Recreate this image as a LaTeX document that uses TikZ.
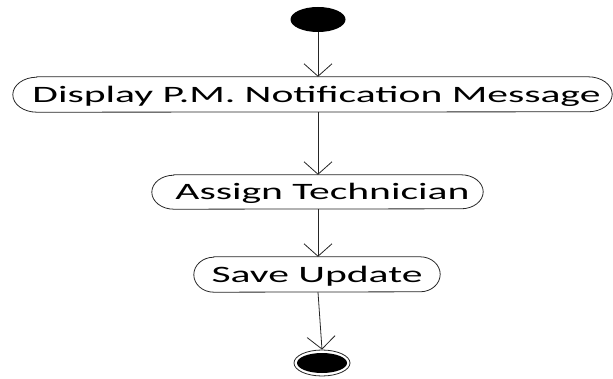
\documentclass[tikz,border=0pt]{standalone}
\usepackage{fontspec}
\setmainfont{Carlito}
\newfontfamily\actfont[FakeStretch=1.77]{Carlito}
\usetikzlibrary{arrows.meta,calc,shapes.geometric}

% Outline of an activity: straight top and bottom with elliptic end caps
% #1 node name, #2 cap width, #3 half height
\newcommand{\capsule}[3]{%
  \draw[flow] ($(#1.north west)+(#2,0)$) -- ($(#1.north east)+(-#2,0)$)
    arc[start angle=90,end angle=-90,x radius=#2pt,y radius=#3pt]
    -- ($(#1.south west)+(#2,0)$)
    arc[start angle=270,end angle=90,x radius=#2pt,y radius=#3pt]
    -- cycle;}

\begin{document}
\begin{tikzpicture}[x=1pt,y=-1pt,
    flow/.style={draw=black!85,line width=0.8pt},
    activity/.style={rectangle,inner sep=0pt,text height=16pt,text depth=0pt,
      font=\actfont\fontsize{23.5}{28}\selectfont},
    arrow/.style={flow,-{Straight Barb[length=12.5pt,width=28pt]}},
    initial/.style={ellipse,fill=black,inner sep=0pt,
      minimum width=55pt,minimum height=25pt},
    finalring/.style={ellipse,draw=black!85,line width=0.8pt,fill=white,
      inner sep=0pt,minimum width=56pt,minimum height=26pt},
    finaldot/.style={ellipse,fill=black,inner sep=0pt,
      minimum width=50pt,minimum height=20pt}]
  \useasboundingbox (0,0) rectangle (613,379);

  % initial node
  \node[initial] (start) at (318,19.5) {};

  % activities
  \node[activity,minimum width=599pt,minimum height=35pt] (disp) at (312.5,94.5)
    {\hspace*{8pt}Display P.M. Notification Message};
  \node[activity,minimum width=331pt,minimum height=34pt] (assign) at (317.5,192)
    {\hspace*{10pt}Assign Technician};
  \node[activity,minimum width=246pt,minimum height=35pt] (save) at (317,274.5)
    {Save Update};

  \capsule{disp}{24}{17.5}
  \capsule{assign}{22}{17}
  \capsule{save}{20}{17.5}

  % final node
  \node[finalring] (end) at (322,363) {};
  \node[finaldot] (enddot) at (end.center) {};

  % control flow
  \draw[arrow] (start.south) -- (start.south |- disp.north);
  \draw[arrow] (start.south |- disp.south) -- (start.south |- assign.north);
  \draw[arrow] (start.south |- assign.south) -- (start.south |- save.north);
  \draw[arrow] (start.south |- save.south) -- (end.north);
\end{tikzpicture}
\end{document}
